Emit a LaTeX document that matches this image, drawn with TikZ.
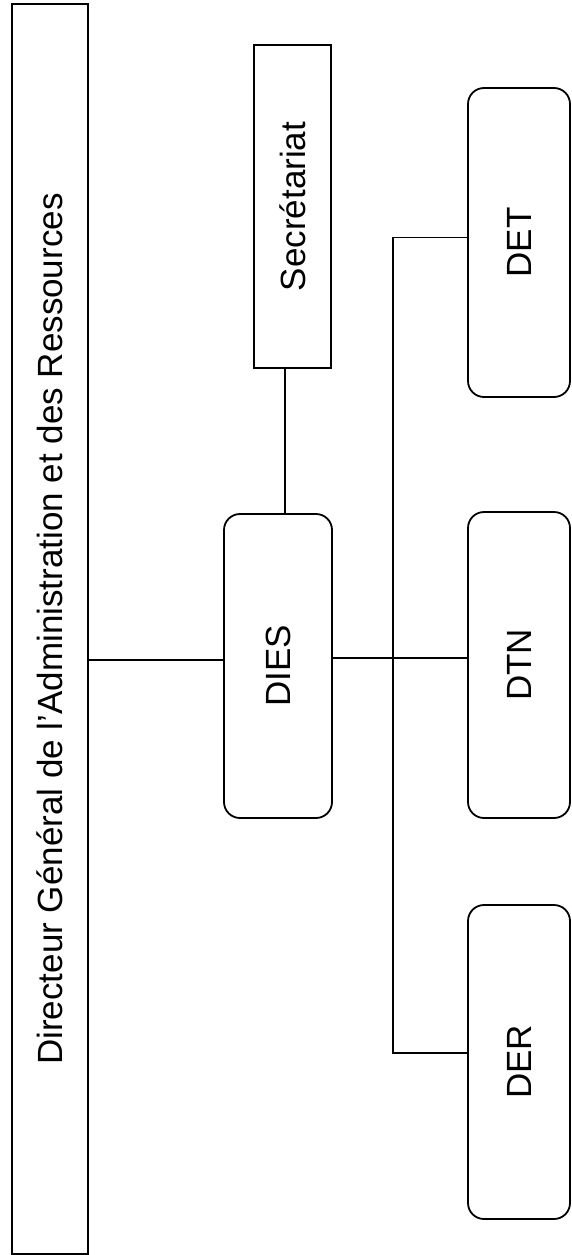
\documentclass[tikz,border=0pt]{standalone}
\usepackage{fontspec, graphicx}
\setmainfont{Liberation Sans}
\usetikzlibrary{positioning}
\tikzset{
    x=1pt, y=1pt,
    every node/.append style={
        font=\fontsize{35}{40}\selectfont,
        inner sep=0pt
    },
    plainbox/.style={
        draw,
        line width=1.8pt
    },
    unitbox/.style={
        plainbox,
        rounded corners=16pt
    },
    link/.style={
        draw,
        line width=1.4pt
    }
}
\begin{document}
\begin{tikzpicture}
                \useasboundingbox (0,0) rectangle (571,-1255);
                \node[plainbox, minimum width=76pt, minimum height=1250pt] (dgar) at (50,-629) {\rotatebox{90}{Directeur Général de l’Administration et des Ressources}};
                \node[plainbox, minimum width=77pt, minimum height=323pt] (secr) at (292.5,-206.5) {\rotatebox{90}{Secrétariat}};
                \node[unitbox, minimum width=108pt, minimum height=304pt] (dies) at (278,-666) {\rotatebox{90}{DIES}};
                \node[unitbox, minimum width=102pt, minimum height=309pt] (det) at (519,-242.5) {\rotatebox{90}{DET}};
                \node[unitbox, minimum width=102pt, minimum height=306pt] (dtn) at (519,-665) {\rotatebox{90}{DTN}};
                \node[unitbox, minimum width=102pt, minimum height=314pt] (der) at (519,-1062) {\rotatebox{90}{DER}};
                \coordinate (bus) at (393,-658);

                \draw[link] ([yshift=6pt]dies.west -| dgar.east) -- ([yshift=6pt]dies.west);
                \draw[link] ([xshift=-7.5pt]secr.south) -- ([xshift=7pt]dies.north);
                \draw[link] ([yshift=8pt]dies.east) -- ([yshift=7pt]dtn.west);
                \draw[link] ([yshift=5pt]det.west) -| (bus) |- ([yshift=9pt]der.west);
            \end{tikzpicture}
\end{document}
